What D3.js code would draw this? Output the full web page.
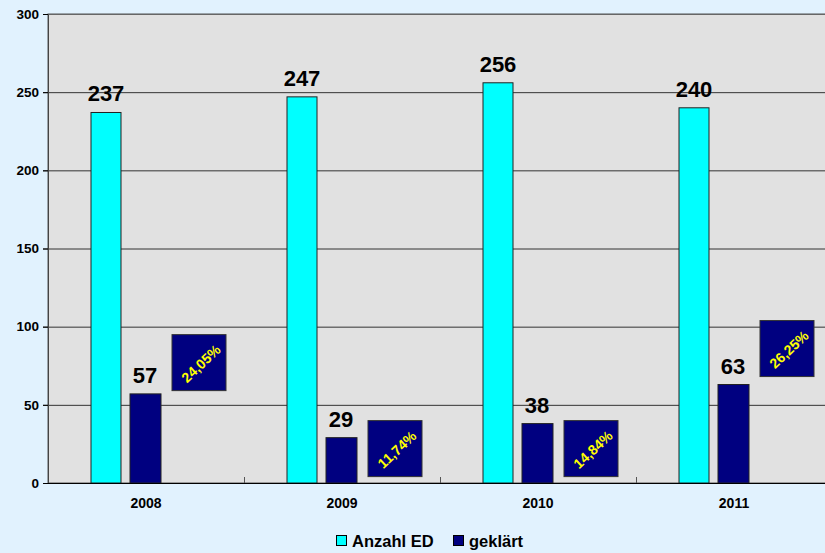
<!DOCTYPE html>
<html>
<head>
<meta charset="utf-8">
<script src="https://cdn.jsdelivr.net/npm/d3@7"></script>
<style>
  body { margin: 0; background: #e1f2fe; }
  svg { display: block; font-family: "Liberation Sans", Arial, sans-serif; font-weight: bold; }
</style>
</head>
<body>
<div class="chart"></div>
<script>
// Data.
const years = ['2008', '2009', '2010', '2011'];
const anzahlED = [237, 247, 256, 240];
const geklaert = [57, 29, 38, 63];
const quoteLabels = ['24,05%', '11,74%', '14,84%', '26,25%'];
// where the percentage boxes sit (value units, box centre)
const quotePos = [77, 22, 22, 86];
const yTicks = [0, 50, 100, 150, 200, 250, 300];

// Margin convention.
const margin = { top: 14, right: 0, bottom: 70, left: 48 };
const chartWidth = 825, chartHeight = 553;
const width = 784;
const height = chartHeight - margin.top - margin.bottom;

// Scales.
const xScale = d3.scaleBand().domain(years).range([0, width]);
const yScale = d3.scaleLinear().domain([0, 300]).range([height, 0]);

const svg = d3.select('.chart')
  .append('svg')
  .attr('width', chartWidth)
  .attr('height', chartHeight);

const g = svg.append('g')
  .attr('transform', `translate(${margin.left}, ${margin.top})`);

// Plot area.
g.append('rect')
  .attr('width', width)
  .attr('height', height)
  .attr('fill', '#e1e1e1')
  .attr('stroke', '#555')
  .attr('stroke-width', 1);

// Grid lines.
g.append('g')
  .selectAll('line')
  .data(yTicks.filter(d => d > 0))
  .join('line')
  .attr('x1', -5)
  .attr('x2', width)
  .attr('y1', d => yScale(d) + 0.5)
  .attr('y2', d => yScale(d) + 0.5)
  .attr('stroke', d => d === 300 ? '#666' : '#333')
  .attr('stroke-width', 1);

// Y axis.
const yAxis = d3.axisLeft(yScale).tickValues(yTicks).tickSize(5).tickPadding(4);
const yAxisDraw = g.append('g').call(yAxis);
yAxisDraw.select('.domain').attr('stroke', '#444');
yAxisDraw.selectAll('text')
  .style('font-size', '13.5px')
  .style('font-weight', 'bold')
  .style('font-family', '"Liberation Sans", Arial, sans-serif')
  .attr('fill', '#000');

// Bars.
const bw = 30;
const bars = g.append('g');

bars.selectAll('.ed')
  .data(years)
  .join('rect')
  .attr('class', 'ed')
  .attr('x', d => xScale(d) + 43)
  .attr('y', (d, i) => yScale(anzahlED[i]))
  .attr('width', bw)
  .attr('height', (d, i) => height - yScale(anzahlED[i]))
  .attr('fill', '#00ffff')
  .attr('stroke', '#222')
  .attr('stroke-width', 1);

bars.selectAll('.gk')
  .data(years)
  .join('rect')
  .attr('class', 'gk')
  .attr('x', d => xScale(d) + 82)
  .attr('y', (d, i) => yScale(geklaert[i]))
  .attr('width', bw + 1)
  .attr('height', (d, i) => height - yScale(geklaert[i]))
  .attr('fill', '#000080')
  .attr('stroke', '#222')
  .attr('stroke-width', 1);

// Value labels.
g.append('g')
  .selectAll('text')
  .data(years)
  .join('text')
  .attr('x', d => xScale(d) + 43 + bw / 2)
  .attr('y', (d, i) => yScale(anzahlED[i]) - 11)
  .attr('text-anchor', 'middle')
  .style('font-size', '22px')
  .text((d, i) => anzahlED[i]);

g.append('g')
  .selectAll('text')
  .data(years)
  .join('text')
  .attr('x', d => xScale(d) + 82 + bw / 2)
  .attr('y', (d, i) => yScale(geklaert[i]) - 11)
  .attr('text-anchor', 'middle')
  .style('font-size', '22px')
  .text((d, i) => geklaert[i]);

// X axis.
const xAxisDraw = g.append('g').attr('transform', `translate(0, ${height})`);
xAxisDraw.append('line')
  .attr('x1', -5).attr('x2', width)
  .attr('y1', 0.5).attr('y2', 0.5)
  .attr('stroke', '#000');
xAxisDraw.selectAll('.tick')
  .data(years.slice(1))
  .join('line')
  .attr('x1', d => xScale(d) + 0.5)
  .attr('x2', d => xScale(d) + 0.5)
  .attr('y1', 0).attr('y2', -6)
  .attr('stroke', '#555');
xAxisDraw.selectAll('text')
  .data(years)
  .join('text')
  .attr('x', d => xScale(d) + xScale.bandwidth() / 2)
  .attr('y', 25)
  .attr('text-anchor', 'middle')
  .style('font-size', '14px')
  .text(d => d);

// Percentage boxes.
const boxes = g.append('g')
  .selectAll('g')
  .data(years)
  .join('g')
  .attr('transform', (d, i) => `translate(${xScale(d) + 151}, ${yScale(quotePos[i])})`);

boxes.append('rect')
  .attr('x', -27).attr('y', -28)
  .attr('width', 54).attr('height', 56)
  .attr('fill', '#000080')
  .attr('stroke', '#333')
  .attr('stroke-width', 1);

boxes.append('text')
  .attr('transform', 'translate(2, 1) rotate(-43)')
  .attr('text-anchor', 'middle')
  .attr('dy', '0.35em')
  .attr('fill', '#ffff00')
  .style('font-size', '14px')
  .text((d, i) => quoteLabels[i]);

// Legend.
const legendItems = [
  { name: 'Anzahl ED', color: '#00ffff' },
  { name: 'geklärt', color: '#000080' }
];
const legend = svg.append('g').attr('transform', 'translate(336, 541)');
const lx = [0, 117];
legendItems.forEach((d, i) => {
  legend.append('rect')
    .attr('x', lx[i] + 0.5).attr('y', -5.5)
    .attr('width', 10).attr('height', 10)
    .attr('fill', d.color)
    .attr('stroke', '#000');
  legend.append('text')
    .attr('x', lx[i] + 16)
    .attr('y', 6)
    .style('font-size', '16.5px')
    .text(d.name);
});
</script>
</body>
</html>
